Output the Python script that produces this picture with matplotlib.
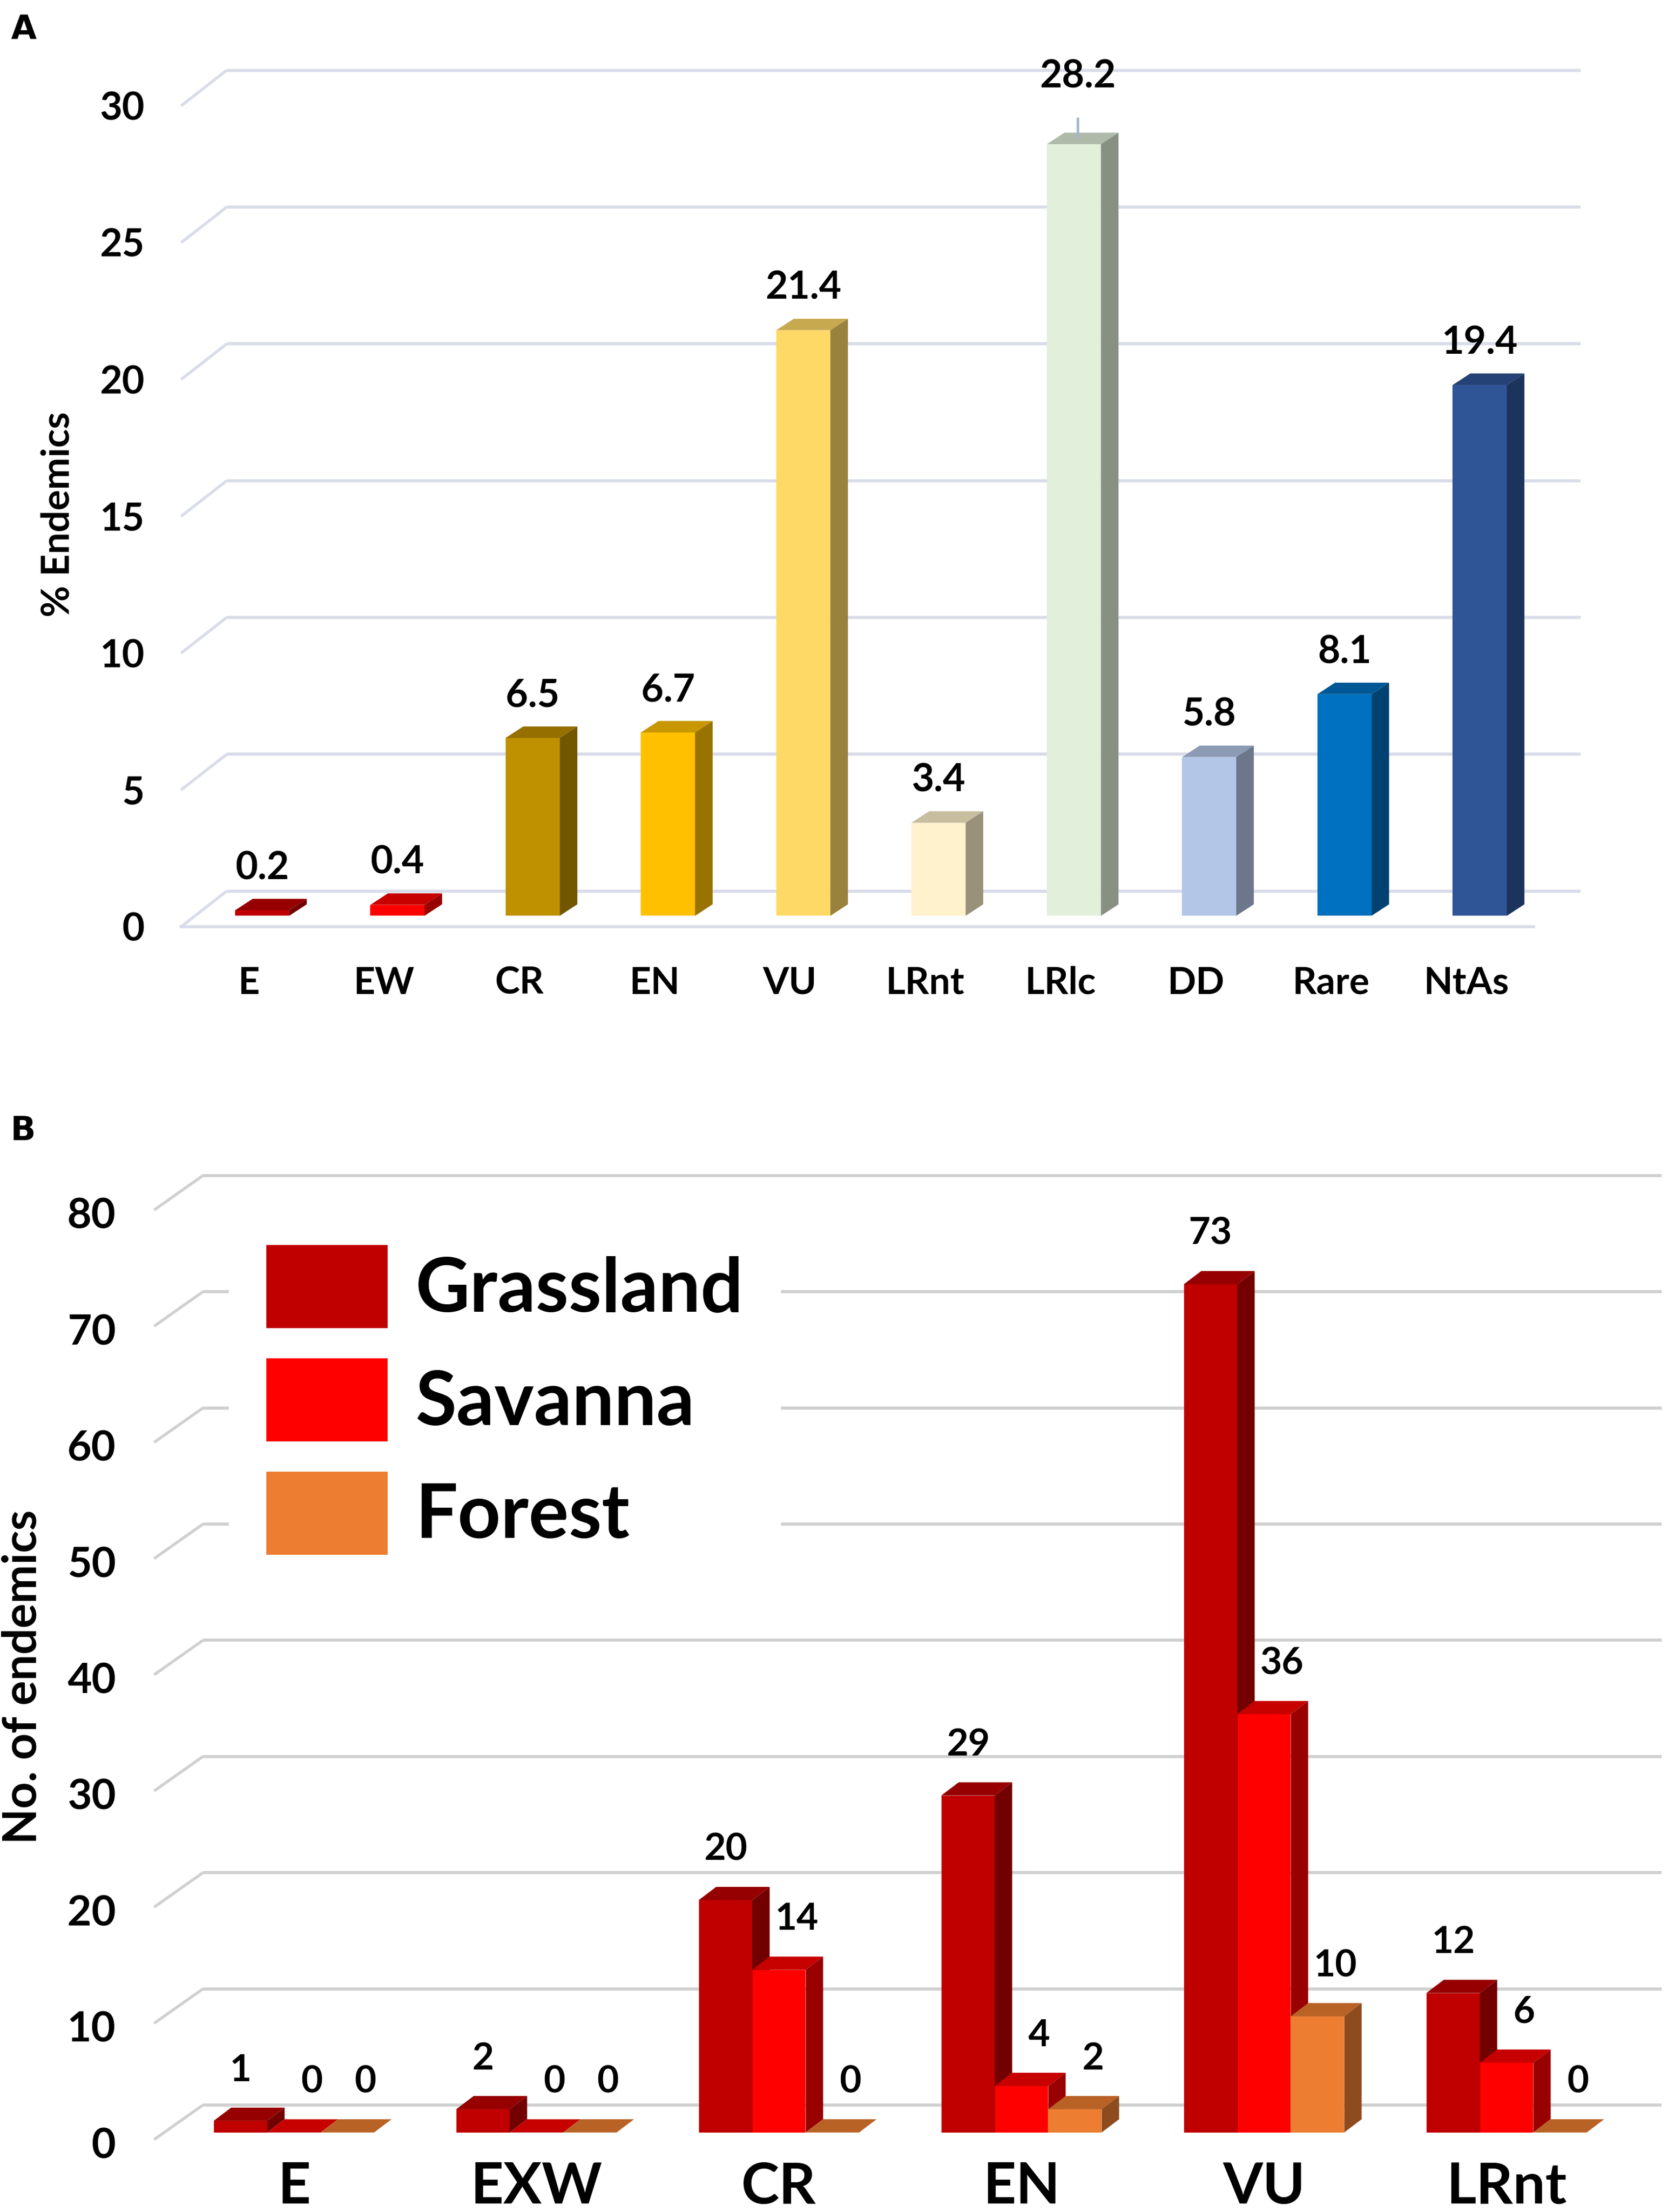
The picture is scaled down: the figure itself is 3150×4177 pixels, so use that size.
import matplotlib.pyplot as plt
from matplotlib.patches import Patch
from matplotlib.colors import to_rgb

plt.rcParams['font.family'] = ['Lato', 'DejaVu Sans']

# ---- panel A : % endemics per IUCN category ----
status_a = ['E', 'EW', 'CR', 'EN', 'VU', 'LRnt', 'LRlc', 'DD', 'Rare', 'NtAs']
pct_a = [0.2, 0.4, 6.5, 6.7, 21.4, 3.4, 28.2, 5.8, 8.1, 19.4]
colors_a = ['#c00000', '#ff0000', '#bf9000', '#ffc000', '#ffd966',
            '#fff2cc', '#e2efda', '#b4c6e7', '#0070c0', '#2f5597']
ticks_a = [0, 5, 10, 15, 20, 25, 30]

# ---- panel B : number of endemics per habitat ----
status_b = ['E', 'EXW', 'CR', 'EN', 'VU', 'LRnt']
habitats = ['Grassland', 'Savanna', 'Forest']
grassland = [1, 2, 20, 29, 73, 12]
savanna = [0, 0, 14, 4, 36, 6]
forest = [0, 0, 0, 2, 10, 0]
colors_b = ['#c00000', '#ff0000', '#ed7d31']
ticks_b = [0, 10, 20, 30, 40, 50, 60, 70, 80]

W, H, DPI = 3150, 4177, 300
fig = plt.figure(figsize=(W / DPI, H / DPI), dpi=DPI)


def px_axes(l, t, r, b):
    ax = fig.add_axes([l / W, 1 - b / H, (r - l) / W, (b - t) / H])
    ax.set_axis_off()
    return ax


def shade(c, f):
    return tuple(v * f for v in to_rgb(c))


def bar3d(ax, x, h, w, base, dx, dy, color, z):
    # front face is a normal bar, top and side faces follow from its geometry
    ax.bar(x, h, w, bottom=base, color=color, linewidth=0, zorder=z)
    x0, x1, top = x - w / 2, x + w / 2, base + h
    ax.fill([x0, x1, x1 + dx, x0 + dx], [top, top, top + dy, top + dy],
            color=shade(color, 0.78), lw=0, zorder=z)
    ax.fill([x1, x1 + dx, x1 + dx, x1], [base, base + dy, top + dy, top],
            color=shade(color, 0.6), lw=0, zorder=z)


def walls(ax, ticks, left, right, wdx, wdy, color):
    for v in ticks:
        ax.plot([left, left + wdx], [v, v + wdy], color=color, lw=1.3, zorder=1,
                solid_capstyle='butt')
        ax.plot([left + wdx, right], [v + wdy, v + wdy], color=color, lw=1.4,
                zorder=1, solid_capstyle='butt')


############ Panel A ############
cx0, step = 495, 255.5          # px of first category centre, px per category
y0, ppu = 1750, 51.67           # px of value 0, px per unit
axA = px_axes(300, 90, 3050, 1790)
axA.set_xlim((300 - cx0) / step, (3050 - cx0) / step)
axA.set_ylim((y0 - 1790) / ppu, (y0 - 90) / ppu)

grid_a = '#d9dce9'
walls(axA, ticks_a, -0.599, 9.746, 0.337, 1.30, grid_a)
axA.plot([-0.599, 9.397], [0, 0], color=grid_a, lw=1.4, zorder=1)

base_a = 0.4
for i, (v, c) in enumerate(zip(pct_a, colors_a)):
    bar3d(axA, i, v, 0.4, base_a, 0.13, 0.42, c, 3 + i)
    if status_a[i] == 'LRlc':
        axA.annotate(f'{v}', xy=(i + 0.03, base_a + v + 0.25), xytext=(0, 27.5),
                     textcoords='offset points', ha='center', va='center',
                     fontsize=17.5, fontweight='bold', zorder=20,
                     arrowprops=dict(arrowstyle='-', color='#a9b6cf', lw=1.2,
                                     shrinkA=9, shrinkB=0))
    else:
        axA.annotate(f'{v}', xy=(i, base_a + v), xytext=(0, 19),
                     textcoords='offset points', ha='center', va='center',
                     fontsize=17.5, fontweight='bold', zorder=20)

for v in ticks_a:
    axA.text((273 - cx0) / step, v - 0.12, str(v), ha='right', va='center',
             fontsize=17.5, fontweight='bold', clip_on=False)
for i, s in enumerate(status_a):
    axA.text(i - 0.1, (y0 - 1856) / ppu, s, ha='center', va='center',
             fontsize=17, fontweight='bold', clip_on=False)

fig.text(110 / W, 1 - 971 / H, '% Endemics', rotation=90, ha='center',
         va='center', fontsize=17.5, fontweight='bold')
fig.text(45 / W, 1 - 57 / H, 'A', ha='center', va='center', fontsize=15,
         fontweight='bold', family='DejaVu Sans')

############ Panel B ############
gx0, gstep = 555, 458
yb0, ppb = 4040, 21.94
axB = px_axes(250, 2150, 3150, 4177)
axB.set_xlim((250 - gx0) / gstep, (3150 - gx0) / gstep)
axB.set_ylim((yb0 - 4177) / ppb, (yb0 - 2150) / ppb)

walls(axB, ticks_b, -0.576, 5.64, 0.201, 2.96, '#d0d0d0')

bw, base_b = 0.2205, 0.6
series = [grassland, savanna, forest]
for g in range(len(status_b)):
    for k, vals in enumerate(series):
        x = g + (k - 1) * bw
        v = vals[g]
        bar3d(axB, x, v, bw, base_b, 0.072, 1.14, colors_b[k], 3 + k)
        axB.annotate(str(v), xy=(x, base_b + v), xytext=(0 if k == 0 else 8, 23),
                     textcoords='offset points', ha='center', va='center',
                     fontsize=17, fontweight='bold', zorder=20)

for v in ticks_b:
    axB.text((219 - gx0) / gstep, v - 0.6, str(v), ha='right', va='center',
             fontsize=19, fontweight='bold', clip_on=False)
for g, s in enumerate(status_b):
    axB.text(g, (yb0 - 4130) / ppb, s, ha='center', va='center',
             fontsize=26, fontweight='bold', clip_on=False)

handles = [Patch(facecolor=c, edgecolor='none') for c in colors_b]
leg = axB.legend(handles, habitats, loc='upper left',
                 bbox_to_anchor=(432 / W, 1 - 2280 / H), bbox_transform=fig.transFigure,
                 prop=dict(family='Lato', weight='bold', size=34),
                 handlelength=1.62, handleheight=1.33, handletextpad=0.37,
                 labelspacing=0.4, borderpad=0.5, borderaxespad=0,
                 frameon=True, fancybox=False, facecolor='white',
                 edgecolor='none', framealpha=1)
leg.set_zorder(10)

fig.text(43 / W, 1 - 3166 / H, 'No. of endemics', rotation=90, ha='center',
         va='center', fontsize=21, fontweight='bold')
fig.text(43 / W, 1 - 2136 / H, 'B', ha='center', va='center', fontsize=15,
         fontweight='bold', family='DejaVu Sans')

fig.savefig('out.png', dpi=DPI)
